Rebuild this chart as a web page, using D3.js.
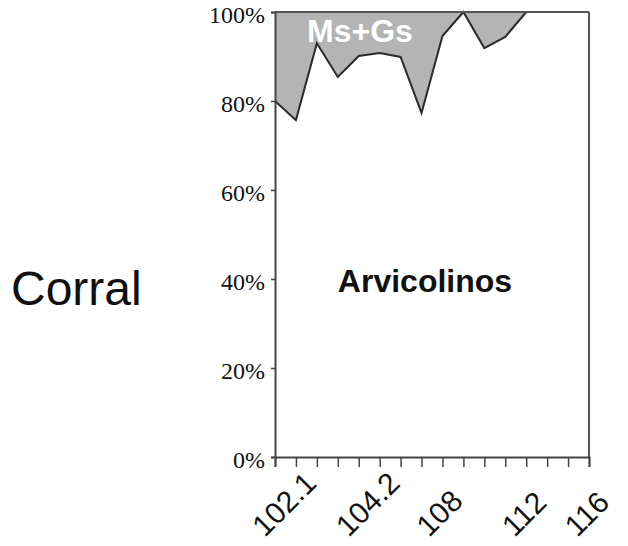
<!DOCTYPE html>
<html>
<head>
<meta charset="utf-8">
<script src="https://cdn.jsdelivr.net/npm/d3@7"></script>
<style>
  html, body { margin: 0; padding: 0; background: #fff; }
  svg { display: block; }
</style>
</head>
<body>
<svg id="chart" width="628" height="546"></svg>
<script>
// ---- data ----
const samples = ["", "102.1", "", "", "", "104.2", "", "", "108", "", "", "", "112", "", "", "116"];
const arvicolinos = [80.0, 75.7, 93.0, 85.4, 90.1, 90.8, 89.9, 77.3, 94.6, 100, 91.9, 94.4, 100, 100, 100, 100];
const msgs = [20.0, 24.3, 7.0, 14.6, 9.9, 9.2, 10.1, 22.7, 5.4, 0, 8.1, 5.6, 0, 0, 0, 0];
const yTicks = [0, 20, 40, 60, 80, 100];
const seriesNames = ["Arvicolinos", "Ms+Gs"];
const rowLabel = "Corral";

// ---- layout ----
const svg = d3.select("#chart");
const pLeft = 275, pRight = 589, pTop = 12, pBottom = 457;
const idx = samples.map((d, i) => i);
const x = d3.scalePoint().domain(idx).range([pLeft, pRight]);
const y = d3.scaleLinear().domain([0, 100]).range([pBottom, pTop]);

const table = idx.map(i => ({ i: i, Arvicolinos: arvicolinos[i], "Ms+Gs": msgs[i] }));
const stacked = d3.stack().keys(seriesNames)(table);

const area = d3.area()
  .x(d => x(d.data.i))
  .y0(d => y(d[0]))
  .y1(d => y(d[1]));

const fills = { "Arvicolinos": "#ffffff", "Ms+Gs": "#b4b4b4" };
svg.append("g").selectAll("path")
  .data(stacked)
  .join("path")
  .attr("d", area)
  .attr("fill", d => fills[d.key]);

// boundary line between the series
const line = d3.line().x(d => x(d.data.i)).y(d => y(d[1]));
svg.append("path")
  .datum(stacked[0])
  .attr("d", line)
  .attr("fill", "none")
  .attr("stroke", "#2a2a2a")
  .attr("stroke-width", 2)
  .attr("stroke-linejoin", "miter");

// top line and right border
svg.append("line")
  .attr("x1", pLeft).attr("x2", pRight)
  .attr("y1", y(100)).attr("y2", y(100))
  .attr("stroke", "#555").attr("stroke-width", 2);
svg.append("line")
  .attr("x1", pRight).attr("x2", pRight)
  .attr("y1", y(100)).attr("y2", y(0))
  .attr("stroke", "#555").attr("stroke-width", 2);

// y axis
const yAxis = d3.axisLeft(y)
  .tickValues(yTicks)
  .tickSize(4)
  .tickPadding(6)
  .tickFormat(d => d + "%");
const gy = svg.append("g").attr("transform", `translate(${pLeft},0)`).call(yAxis);
gy.select(".domain").attr("stroke", "#444").attr("stroke-width", 2);
gy.selectAll(".tick line").attr("stroke", "#444").attr("stroke-width", 1.5);
gy.selectAll(".tick text")
  .attr("font-family", "'Liberation Serif', 'Times New Roman', serif")
  .attr("font-size", 24)
  .attr("fill", "#111")
  .attr("dy", "0.45em");

// x axis
const xAxis = d3.axisBottom(x).tickSize(10).tickFormat("");
const gx = svg.append("g").attr("transform", `translate(0,${pBottom})`).call(xAxis);
gx.select(".domain").attr("stroke", "#444").attr("stroke-width", 2);
gx.selectAll(".tick line").attr("stroke", "#444").attr("stroke-width", 1.5);

const labelBase = 538;
const xl = svg.append("g").selectAll("text")
  .data(idx.filter(i => samples[i] !== ""))
  .join("text")
  .attr("text-anchor", "start")
  .attr("font-family", "'Liberation Sans', Arial, sans-serif")
  .attr("font-size", 30)
  .attr("fill", "#111")
  .text(i => samples[i]);
xl.each(function(i) {
  const w = this.getComputedTextLength() * Math.SQRT1_2;
  d3.select(this).attr("transform", `translate(${x(i) + 22 - w},${labelBase}) rotate(-45)`);
});

// series labels
svg.append("text")
  .attr("x", 360).attr("y", 42)
  .attr("text-anchor", "middle")
  .attr("font-family", "'Liberation Sans', Arial, sans-serif")
  .attr("font-weight", "bold")
  .attr("font-size", 32)
  .attr("fill", "#ffffff")
  .text(seriesNames[1]);

svg.append("text")
  .attr("x", 425).attr("y", 292)
  .attr("text-anchor", "middle")
  .attr("font-family", "'Liberation Sans', Arial, sans-serif")
  .attr("font-weight", "bold")
  .attr("font-size", 32)
  .attr("fill", "#111")
  .text(seriesNames[0]);

svg.append("text")
  .attr("x", 11).attr("y", 305)
  .attr("font-family", "'Liberation Sans', Arial, sans-serif")
  .attr("font-size", 48)
  .attr("fill", "#111")
  .text(rowLabel);
</script>
</body>
</html>
